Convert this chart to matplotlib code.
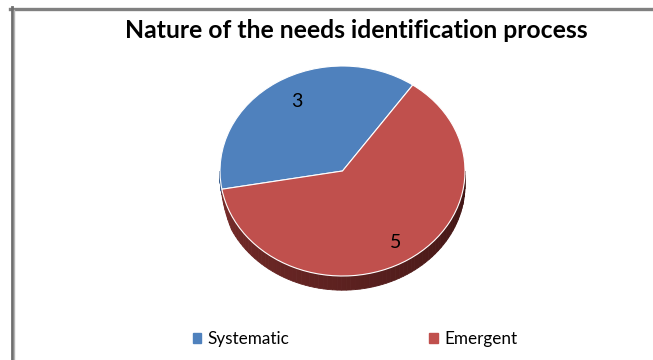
import matplotlib
matplotlib.use("Agg")
import matplotlib.pyplot as plt
from matplotlib.lines import Line2D
import numpy as np

# ----- datos ---------------------------------------------
categorias = ["Systematic", "Emergent"]
valores = [3, 5]
colores = ["#4f81bd", "#c0504d"]
lados = [("#3a5f8f", "#22395a"), ("#7a2d2b", "#3e1514")]

titulo = "Nature of the needs identification process"
angulo_inicio = 55
profundidad = 0.135

plt.rcParams['font.family'] = ['Lato', 'DejaVu Sans']

fig = plt.figure(figsize=(6.53, 3.6), dpi=100)
fig.patch.set_facecolor("white")

# marco gris (borde superior e izquierdo)
fig.add_artist(Line2D([10/653, 1], [1 - 8.5/360, 1 - 8.5/360], color="#808080", lw=2.4))
fig.add_artist(Line2D([11.5/653, 11.5/653], [0, 1 - 7/360], color="#6e6e6e", lw=2.0))
fig.add_artist(Line2D([14/653, 14/653], [0, 1 - 10/360], color="#b4b4b4", lw=1.0))

fig.text(356/653, 1 - 31/360, titulo, ha="center", va="center",
         fontsize=17.8, fontweight="bold")

ax = fig.add_axes([220/653, 1 - 276/360, 245/653, 210/360])

# costado del pastel (profundidad 3D), mas delgado hacia el borde izquierdo
total = float(sum(valores))
inicio = angulo_inicio
for v, (c1, c2) in zip(valores, lados):
    fin = inicio + 360.0 * v / total
    a0, a1 = max(inicio, 180), min(fin, 360)
    if a1 > a0:
        ang = np.linspace(a0, a1, 80)
        for k in range(len(ang) - 1):
            t = np.radians(ang[k:k + 2])
            frac = (ang[k] - 180) / 180.0
            col = np.array(matplotlib.colors.to_rgb(c1)) * (1 - frac) + \
                  np.array(matplotlib.colors.to_rgb(c2)) * frac
            d = profundidad * np.clip((ang[k:k + 2] - 180) / 25.0, 0.35, 1.0)
            xs = np.concatenate([np.cos(t), np.cos(t[::-1])])
            ys = np.concatenate([np.sin(t), np.sin(t[::-1]) - d[::-1]])
            ax.fill(xs, ys, color=col, lw=0.6, ec=col, clip_on=False)
    inicio = fin

wedges, textos = ax.pie(valores, colors=colores, startangle=angulo_inicio,
                        counterclock=True, radius=1.0,
                        wedgeprops=dict(edgecolor="white", linewidth=0.8))
for w in wedges:
    w.set_clip_on(False)

ax.set_aspect("auto")
ax.set_xlim(-1, 1)
ax.set_ylim(-1, 1)
ax.axis("off")

# etiquetas de valor
ax.text(-0.37, 0.66, str(valores[0]), ha="center", va="center", fontsize=14)
ax.text(0.43, -0.68, str(valores[1]), ha="center", va="center", fontsize=14)

# leyenda
fig.legend(handles=[plt.Rectangle((0, 0), 1, 1, color=c) for c in colores],
           labels=categorias, loc="center", bbox_to_anchor=(355/653, 1 - 339/360),
           ncol=2, frameon=False, fontsize=12.3, handlelength=0.5, handleheight=0.5,
           handletextpad=0.35, columnspacing=8.2)

fig.savefig("out.png", dpi=100)
